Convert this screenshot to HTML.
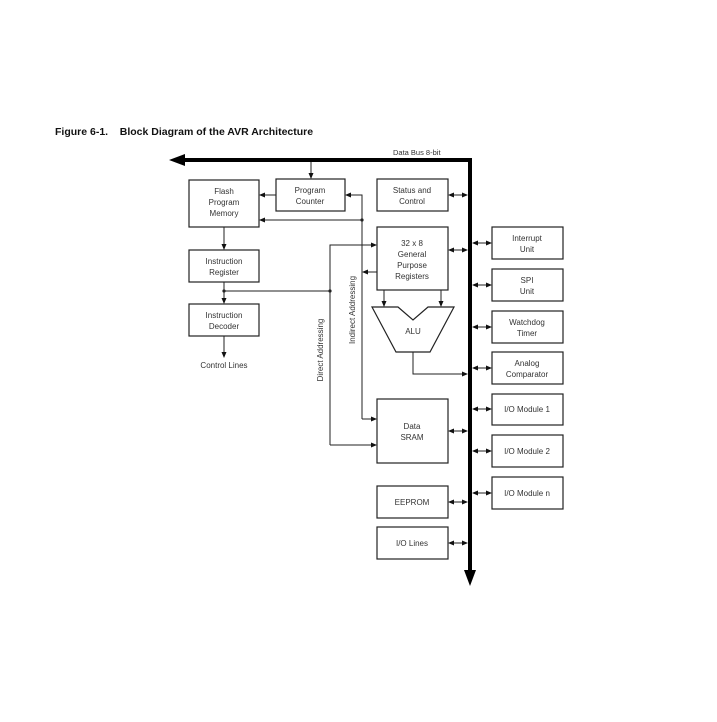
<!DOCTYPE html>
<html><head><style>
html,body{margin:0;padding:0;background:#fff;}
svg{display:block;}
text{font-family:"Liberation Sans",Arial,sans-serif;fill:#333;}
</style></head><body>
<svg width="717" height="722" viewBox="0 0 717 722" xmlns="http://www.w3.org/2000/svg">
<defs>
<marker id="a" markerWidth="6" markerHeight="6" refX="5" refY="3" orient="auto" markerUnits="userSpaceOnUse"><path d="M0,0.5 L6,3 L0,5.5 z" fill="#111"/></marker>
<marker id="s" markerWidth="6" markerHeight="6" refX="1" refY="3" orient="auto" markerUnits="userSpaceOnUse"><path d="M6,0.5 L0,3 L6,5.5 z" fill="#111"/></marker>
</defs>
<text x="55" y="135" font-size="10.5" font-weight="bold" style="fill:#111;white-space:pre">Figure 6-1.    Block Diagram of the AVR Architecture</text>
<text x="393" y="155" font-size="7.5">Data Bus 8-bit</text>
<!-- bus -->
<path d="M183,160 L470,160 L470,572" fill="none" stroke="#000" stroke-width="4"/>
<path d="M169,160 L185,154 L185,166 z" fill="#000"/>
<path d="M470,586 L464,570 L476,570 z" fill="#000"/>
<g fill="#fff" stroke="#222" stroke-width="1.2">
<rect x="189" y="180" width="70" height="47"/>
<rect x="276" y="179" width="69" height="32"/>
<rect x="377" y="179" width="71" height="32"/>
<rect x="377" y="227" width="71" height="63"/>
<rect x="189" y="250" width="70" height="32"/>
<rect x="189" y="304" width="70" height="32"/>
<rect x="492" y="227" width="71" height="32"/>
<rect x="492" y="269" width="71" height="32"/>
<rect x="492" y="311" width="71" height="32"/>
<rect x="492" y="352" width="71" height="32"/>
<rect x="492" y="394" width="71" height="31"/>
<rect x="492" y="435" width="71" height="32"/>
<rect x="492" y="477" width="71" height="32"/>
<rect x="377" y="399" width="71" height="64"/>
<rect x="377" y="486" width="71" height="32"/>
<rect x="377" y="527" width="71" height="32"/>
<path d="M372,307 L398,307 L413,320 L428,307 L454,307 L430,352 L396,352 z"/>
</g>
<g font-size="8" text-anchor="middle">
<text x="224" y="194">Flash</text><text x="224" y="205">Program</text><text x="224" y="216">Memory</text>
<text x="310" y="193">Program</text><text x="310" y="204">Counter</text>
<text x="412" y="193">Status and</text><text x="412" y="204">Control</text>
<text x="412" y="246">32 x 8</text><text x="412" y="257">General</text><text x="412" y="268">Purpose</text><text x="412" y="279">Registers</text>
<text x="224" y="264">Instruction</text><text x="224" y="275">Register</text>
<text x="224" y="318">Instruction</text><text x="224" y="329">Decoder</text>
<text x="224" y="368">Control Lines</text>
<text x="413" y="334">ALU</text>
<text x="527" y="241">Interrupt</text><text x="527" y="252">Unit</text>
<text x="527" y="283">SPI</text><text x="527" y="294">Unit</text>
<text x="527" y="325">Watchdog</text><text x="527" y="336">Timer</text>
<text x="527" y="366">Analog</text><text x="527" y="377">Comparator</text>
<text x="527" y="412">I/O Module 1</text>
<text x="527" y="454">I/O Module 2</text>
<text x="527" y="496">I/O Module n</text>
<text x="412" y="429">Data</text><text x="412" y="440">SRAM</text>
<text x="412" y="505">EEPROM</text>
<text x="412" y="546">I/O Lines</text>
<text transform="translate(323,350) rotate(-90)">Direct Addressing</text>
<text transform="translate(355,310) rotate(-90)">Indirect Addressing</text>
</g>
<g fill="none" stroke="#222" stroke-width="1">
<line x1="311" y1="162" x2="311" y2="178" marker-end="url(#a)"/>
<line x1="276" y1="195" x2="260" y2="195" marker-end="url(#a)"/>
<line x1="224" y1="227" x2="224" y2="249" marker-end="url(#a)"/>
<line x1="224" y1="282" x2="224" y2="303" marker-end="url(#a)"/>
<line x1="224" y1="336" x2="224" y2="357" marker-end="url(#a)"/>
<path d="M362,419 L362,195 L346,195" marker-end="url(#a)"/>
<line x1="362" y1="419" x2="376" y2="419" marker-end="url(#a)"/>
<line x1="362" y1="220" x2="260" y2="220" marker-end="url(#a)"/>
<line x1="377" y1="272" x2="363" y2="272" marker-end="url(#a)"/>
<path d="M224,291 L330,291"/>
<path d="M330,445 L330,245 L376,245" marker-end="url(#a)"/>
<line x1="330" y1="445" x2="376" y2="445" marker-end="url(#a)"/>
<line x1="384" y1="290" x2="384" y2="306" marker-end="url(#a)"/>
<line x1="441" y1="290" x2="441" y2="306" marker-end="url(#a)"/>
<path d="M413,352 L413,374 L467,374" marker-end="url(#a)"/>
<g marker-start="url(#s)" marker-end="url(#a)">
<line x1="449" y1="195" x2="467" y2="195"/>
<line x1="449" y1="250" x2="467" y2="250"/>
<line x1="449" y1="431" x2="467" y2="431"/>
<line x1="449" y1="502" x2="467" y2="502"/>
<line x1="449" y1="543" x2="467" y2="543"/>
<line x1="473" y1="243" x2="491" y2="243"/>
<line x1="473" y1="285" x2="491" y2="285"/>
<line x1="473" y1="327" x2="491" y2="327"/>
<line x1="473" y1="368" x2="491" y2="368"/>
<line x1="473" y1="409" x2="491" y2="409"/>
<line x1="473" y1="451" x2="491" y2="451"/>
<line x1="473" y1="493" x2="491" y2="493"/>
</g>
</g>
<circle cx="362" cy="220" r="1.6" fill="#222"/>
<circle cx="330" cy="291" r="1.6" fill="#222"/>
<circle cx="224" cy="291" r="1.6" fill="#222"/>
</svg>
</body></html>
